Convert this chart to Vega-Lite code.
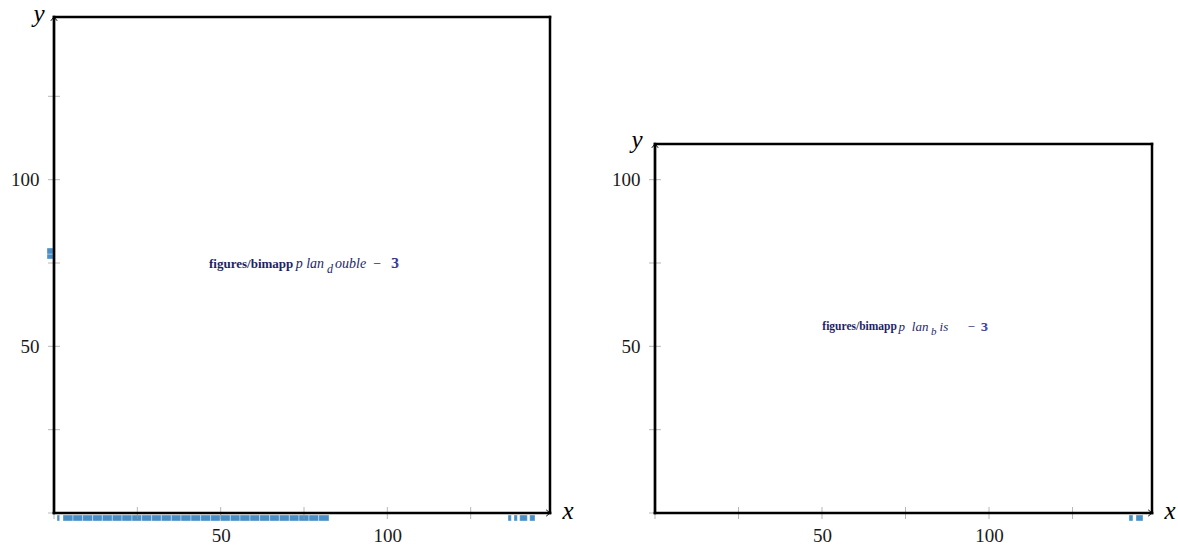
{
  "$schema": "https://vega.github.io/schema/vega-lite/v6.json",
  "padding": {"left": 10, "top": 2, "right": 5, "bottom": 0},
  "spacing": 37,
  "background": "white",
  "config": {
    "view": {"stroke": null},
    "axis": {"labelFont": "Liberation Serif", "labelFontSize": 19, "labelColor": "#1a1a1a", "ticks": false, "domain": false, "grid": false, "title": null, "format": "d"}
  },
  "hconcat": [
    {
      "width": 496,
      "height": 496,
      "layer": [
        {
          "data": {"values": [
            {"x": 0.9, "x2": 1.7, "y": -0.6, "y2": -2.4},
            {"x": 2.7, "x2": 5.7, "y": -0.6, "y2": -2.4},
            {"x": 5.7, "x2": 8.6, "y": -0.6, "y2": -2.4},
            {"x": 8.6, "x2": 11.6, "y": -0.6, "y2": -2.4},
            {"x": 11.6, "x2": 14.5, "y": -0.6, "y2": -2.4},
            {"x": 14.5, "x2": 17.5, "y": -0.6, "y2": -2.4},
            {"x": 17.5, "x2": 20.4, "y": -0.6, "y2": -2.4},
            {"x": 20.4, "x2": 23.4, "y": -0.6, "y2": -2.4},
            {"x": 23.4, "x2": 26.3, "y": -0.6, "y2": -2.4},
            {"x": 26.3, "x2": 29.3, "y": -0.6, "y2": -2.4},
            {"x": 29.3, "x2": 32.2, "y": -0.6, "y2": -2.4},
            {"x": 32.2, "x2": 35.2, "y": -0.6, "y2": -2.4},
            {"x": 35.2, "x2": 38.1, "y": -0.6, "y2": -2.4},
            {"x": 38.1, "x2": 41.1, "y": -0.6, "y2": -2.4},
            {"x": 41.1, "x2": 44.0, "y": -0.6, "y2": -2.4},
            {"x": 44.0, "x2": 47.0, "y": -0.6, "y2": -2.4},
            {"x": 47.0, "x2": 49.9, "y": -0.6, "y2": -2.4},
            {"x": 49.9, "x2": 52.9, "y": -0.6, "y2": -2.4},
            {"x": 52.9, "x2": 55.8, "y": -0.6, "y2": -2.4},
            {"x": 55.8, "x2": 58.8, "y": -0.6, "y2": -2.4},
            {"x": 58.8, "x2": 61.7, "y": -0.6, "y2": -2.4},
            {"x": 61.7, "x2": 64.7, "y": -0.6, "y2": -2.4},
            {"x": 64.7, "x2": 67.6, "y": -0.6, "y2": -2.4},
            {"x": 67.6, "x2": 70.6, "y": -0.6, "y2": -2.4},
            {"x": 70.6, "x2": 73.5, "y": -0.6, "y2": -2.4},
            {"x": 73.5, "x2": 76.5, "y": -0.6, "y2": -2.4},
            {"x": 76.5, "x2": 79.4, "y": -0.6, "y2": -2.4},
            {"x": 79.4, "x2": 82.5, "y": -0.6, "y2": -2.4},
            {"x": 136.2, "x2": 137.2, "y": -0.6, "y2": -2.4},
            {"x": 138.0, "x2": 139.0, "y": -0.6, "y2": -2.4},
            {"x": 139.7, "x2": 142.0, "y": -0.6, "y2": -2.4},
            {"x": 142.7, "x2": 144.3, "y": -0.6, "y2": -2.4},
            {"x": -2.1, "x2": -0.3, "y": 76.2, "y2": 77.7},
            {"x": -2.1, "x2": -0.3, "y": 77.7, "y2": 79.5}
          ]},
          "mark": {"type": "rect", "fill": "#4a90c8", "stroke": "#ffffff", "strokeWidth": 0.5, "strokeOpacity": 0.7},
          "encoding": {
            "x": {"field": "x", "type": "quantitative", "scale": {"domain": [0, 148.8], "nice": false, "zero": false}, "axis": {"values": [50, 100], "labelPadding": 13}},
            "x2": {"field": "x2"},
            "y": {"field": "y", "type": "quantitative", "scale": {"domain": [0, 148.8], "nice": false, "zero": false}, "axis": {"values": [50, 100], "labelPadding": 15}},
            "y2": {"field": "y2"}
          }
        },
        {
          "data": {"values": [{"v": 0}, {"v": 25}, {"v": 50}, {"v": 75}, {"v": 100}, {"v": 125}]},
          "mark": {"type": "tick", "orient": "vertical", "size": 12, "thickness": 1, "color": "#999999"},
          "encoding": {"x": {"field": "v", "type": "quantitative"}, "y": {"datum": 0}}
        },
        {
          "data": {"values": [{"v": 0}, {"v": 25}, {"v": 50}, {"v": 75}, {"v": 100}, {"v": 125}]},
          "mark": {"type": "tick", "orient": "horizontal", "size": 12, "thickness": 1, "color": "#999999"},
          "encoding": {"y": {"field": "v", "type": "quantitative"}, "x": {"datum": 0}}
        },
        {
          "data": {"values": [{}]},
          "mark": {"type": "rule", "strokeWidth": 2.5, "color": "black", "strokeCap": "square"},
          "encoding": {"x": {"datum": 0}, "x2": {"datum": 148.8}, "y": {"datum": 148.8}}
        },
        {
          "data": {"values": [{}]},
          "mark": {"type": "rule", "strokeWidth": 2.5, "color": "black", "strokeCap": "square"},
          "encoding": {"x": {"datum": 148.8}, "y": {"datum": 0}, "y2": {"datum": 148.8}}
        },
        {
          "data": {"values": [{}]},
          "mark": {"type": "rule", "strokeWidth": 2.7, "color": "black", "strokeCap": "square"},
          "encoding": {"x": {"datum": 0}, "y": {"datum": 0}, "y2": {"datum": 148.8}}
        },
        {
          "data": {"values": [{}]},
          "mark": {"type": "rule", "strokeWidth": 2.7, "color": "black", "strokeCap": "square"},
          "encoding": {"x": {"datum": 0}, "x2": {"datum": 148.8}, "y": {"datum": 0}}
        },
        {
          "data": {"values": [{}]},
          "mark": {"type": "point", "shape": "M -1 1.2 L 0 0 L 1 1.2", "filled": false, "stroke": "black", "strokeWidth": 1, "size": 40, "opacity": 1},
          "encoding": {"x": {"datum": 0}, "y": {"datum": 148.8}}
        },
        {
          "data": {"values": [{}]},
          "mark": {"type": "point", "shape": "M -1.2 -1 L 0 0 L -1.2 1", "filled": false, "stroke": "black", "strokeWidth": 1, "size": 40, "opacity": 1},
          "encoding": {"x": {"datum": 148.8}, "y": {"datum": 0}}
        },
        {
          "data": {"values": [{}]},
          "mark": {"type": "text", "text": "y", "font": "Liberation Serif", "fontStyle": "italic", "fontSize": 25, "align": "center", "baseline": "middle", "dx": -15, "dy": -3, "color": "black"},
          "encoding": {"x": {"datum": 0}, "y": {"datum": 148.8}}
        },
        {
          "data": {"values": [{}]},
          "mark": {"type": "text", "text": "x", "font": "Liberation Serif", "fontStyle": "italic", "fontSize": 25, "align": "center", "baseline": "middle", "dx": 18, "dy": -2, "color": "black"},
          "encoding": {"x": {"datum": 148.8}, "y": {"datum": 0}}
        },
        {
          "data": {"values": [{"t": "figures/bimapp", "x": 46.5, "y": 74.7}]},
          "mark": {"type": "text", "font": "Liberation Serif", "fontWeight": "bold", "fontSize": 13, "align": "left", "baseline": "middle", "color": "#1f1f66"},
          "encoding": {"x": {"field": "x", "type": "quantitative"}, "y": {"field": "y", "type": "quantitative"}, "text": {"field": "t"}}
        },
        {
          "data": {"values": [{"t": "p lan", "x": 72.5, "y": 74.7}, {"t": "ouble", "x": 84.3, "y": 74.7}, {"t": "−", "x": 95.5, "y": 74.7}]},
          "mark": {"type": "text", "font": "Liberation Serif", "fontStyle": "italic", "fontSize": 14, "align": "left", "baseline": "middle", "color": "#1f1f66"},
          "encoding": {"x": {"field": "x", "type": "quantitative"}, "y": {"field": "y", "type": "quantitative"}, "text": {"field": "t"}}
        },
        {
          "data": {"values": [{"t": "d", "x": 81.9, "y": 73.2}]},
          "mark": {"type": "text", "font": "Liberation Serif", "fontStyle": "italic", "fontSize": 12, "align": "left", "baseline": "middle", "color": "#1f1f66"},
          "encoding": {"x": {"field": "x", "type": "quantitative"}, "y": {"field": "y", "type": "quantitative"}, "text": {"field": "t"}}
        },
        {
          "data": {"values": [{"t": "3", "x": 101.1, "y": 74.7}]},
          "mark": {"type": "text", "font": "Liberation Serif", "fontSize": 14, "align": "left", "baseline": "middle", "color": "#3a3ad6", "dx": 1},
          "encoding": {"x": {"field": "x", "type": "quantitative"}, "y": {"field": "y", "type": "quantitative"}, "text": {"field": "t"}}
        },
        {
          "data": {"values": [{"t": "3", "x": 101.1, "y": 74.7}]},
          "mark": {"type": "text", "font": "Liberation Serif", "fontSize": 14, "align": "left", "baseline": "middle", "color": "#1f1f66"},
          "encoding": {"x": {"field": "x", "type": "quantitative"}, "y": {"field": "y", "type": "quantitative"}, "text": {"field": "t"}}
        }
      ]
    },
    {
      "width": 497,
      "height": 496,
      "layer": [
        {
          "data": {"values": [
            {"x": 141.9, "x2": 143.1, "y": -0.6, "y2": -2.4},
            {"x": 144.0, "x2": 146.1, "y": -0.6, "y2": -2.4}
          ]},
          "mark": {"type": "rect", "fill": "#4a90c8", "stroke": "#ffffff", "strokeWidth": 0.5, "strokeOpacity": 0.7},
          "encoding": {
            "x": {"field": "x", "type": "quantitative", "scale": {"domain": [0, 148.8], "nice": false, "zero": false}, "axis": {"values": [50, 100], "labelPadding": 13}},
            "x2": {"field": "x2"},
            "y": {"field": "y", "type": "quantitative", "scale": {"domain": [0, 148.8], "nice": false, "zero": false}, "axis": {"values": [50, 100], "labelPadding": 15}},
            "y2": {"field": "y2"}
          }
        },
        {
          "data": {"values": [{"v": 0}, {"v": 25}, {"v": 50}, {"v": 75}, {"v": 100}, {"v": 125}]},
          "mark": {"type": "tick", "orient": "vertical", "size": 12, "thickness": 1, "color": "#999999"},
          "encoding": {"x": {"field": "v", "type": "quantitative"}, "y": {"datum": 0}}
        },
        {
          "data": {"values": [{"v": 0}, {"v": 25}, {"v": 50}, {"v": 75}, {"v": 100}]},
          "mark": {"type": "tick", "orient": "horizontal", "size": 12, "thickness": 1, "color": "#999999"},
          "encoding": {"y": {"field": "v", "type": "quantitative"}, "x": {"datum": 0}}
        },
        {
          "data": {"values": [{}]},
          "mark": {"type": "rule", "strokeWidth": 2.5, "color": "black", "strokeCap": "square"},
          "encoding": {"x": {"datum": 0}, "x2": {"datum": 148.8}, "y": {"datum": 110.7}}
        },
        {
          "data": {"values": [{}]},
          "mark": {"type": "rule", "strokeWidth": 2.5, "color": "black", "strokeCap": "square"},
          "encoding": {"x": {"datum": 148.8}, "y": {"datum": 0}, "y2": {"datum": 110.7}}
        },
        {
          "data": {"values": [{}]},
          "mark": {"type": "rule", "strokeWidth": 2.7, "color": "black", "strokeCap": "square"},
          "encoding": {"x": {"datum": 0}, "y": {"datum": 0}, "y2": {"datum": 110.7}}
        },
        {
          "data": {"values": [{}]},
          "mark": {"type": "rule", "strokeWidth": 2.7, "color": "black", "strokeCap": "square"},
          "encoding": {"x": {"datum": 0}, "x2": {"datum": 148.8}, "y": {"datum": 0}}
        },
        {
          "data": {"values": [{}]},
          "mark": {"type": "point", "shape": "M -1 1.2 L 0 0 L 1 1.2", "filled": false, "stroke": "black", "strokeWidth": 1, "size": 40, "opacity": 1},
          "encoding": {"x": {"datum": 0}, "y": {"datum": 110.7}}
        },
        {
          "data": {"values": [{}]},
          "mark": {"type": "point", "shape": "M -1.2 -1 L 0 0 L -1.2 1", "filled": false, "stroke": "black", "strokeWidth": 1, "size": 40, "opacity": 1},
          "encoding": {"x": {"datum": 148.8}, "y": {"datum": 0}}
        },
        {
          "data": {"values": [{}]},
          "mark": {"type": "text", "text": "y", "font": "Liberation Serif", "fontStyle": "italic", "fontSize": 25, "align": "center", "baseline": "middle", "dx": -18, "dy": -4, "color": "black"},
          "encoding": {"x": {"datum": 0}, "y": {"datum": 110.7}}
        },
        {
          "data": {"values": [{}]},
          "mark": {"type": "text", "text": "x", "font": "Liberation Serif", "fontStyle": "italic", "fontSize": 25, "align": "center", "baseline": "middle", "dx": 18, "dy": -2, "color": "black"},
          "encoding": {"x": {"datum": 148.8}, "y": {"datum": 0}}
        },
        {
          "data": {"values": [{"t": "figures/bimapp", "x": 50.1, "y": 55.8}]},
          "mark": {"type": "text", "font": "Liberation Serif", "fontWeight": "bold", "fontSize": 11.5, "align": "left", "baseline": "middle", "color": "#1f1f66"},
          "encoding": {"x": {"field": "x", "type": "quantitative"}, "y": {"field": "y", "type": "quantitative"}, "text": {"field": "t"}}
        },
        {
          "data": {"values": [{"t": "p", "x": 72.9, "y": 55.8}, {"t": "lan", "x": 76.9, "y": 55.8}, {"t": "is", "x": 85.2, "y": 55.8}, {"t": "−", "x": 93.3, "y": 55.8}]},
          "mark": {"type": "text", "font": "Liberation Serif", "fontStyle": "italic", "fontSize": 13, "align": "left", "baseline": "middle", "color": "#1f1f66"},
          "encoding": {"x": {"field": "x", "type": "quantitative"}, "y": {"field": "y", "type": "quantitative"}, "text": {"field": "t"}}
        },
        {
          "data": {"values": [{"t": "b", "x": 82.6, "y": 54.3}]},
          "mark": {"type": "text", "font": "Liberation Serif", "fontStyle": "italic", "fontSize": 11, "align": "left", "baseline": "middle", "color": "#1f1f66"},
          "encoding": {"x": {"field": "x", "type": "quantitative"}, "y": {"field": "y", "type": "quantitative"}, "text": {"field": "t"}}
        },
        {
          "data": {"values": [{"t": "3", "x": 97.5, "y": 55.8}]},
          "mark": {"type": "text", "font": "Liberation Serif", "fontSize": 12.5, "align": "left", "baseline": "middle", "color": "#3a3ad6", "dx": 1},
          "encoding": {"x": {"field": "x", "type": "quantitative"}, "y": {"field": "y", "type": "quantitative"}, "text": {"field": "t"}}
        },
        {
          "data": {"values": [{"t": "3", "x": 97.5, "y": 55.8}]},
          "mark": {"type": "text", "font": "Liberation Serif", "fontSize": 12.5, "align": "left", "baseline": "middle", "color": "#1f1f66"},
          "encoding": {"x": {"field": "x", "type": "quantitative"}, "y": {"field": "y", "type": "quantitative"}, "text": {"field": "t"}}
        }
      ]
    }
  ]
}
